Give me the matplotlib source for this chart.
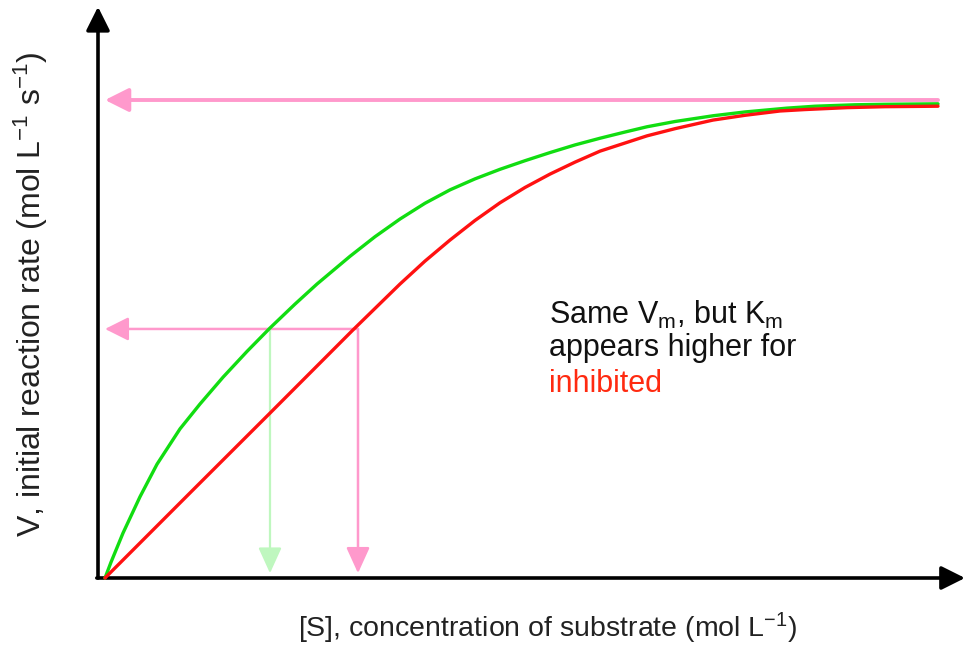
import matplotlib
matplotlib.use("Agg")
import matplotlib.pyplot as plt

plt.rcParams['font.family'] = ['Liberation Sans', 'DejaVu Sans']
plt.rcParams['mathtext.fontset'] = 'custom'
plt.rcParams['mathtext.rm'] = 'Liberation Sans'
plt.rcParams['mathtext.it'] = 'Liberation Sans'

# ---- data (S in arbitrary units, V as fraction of Vmax) ----
s_uninhibited = [0, 0.06, 0.18, 0.35, 0.52, 0.75, 0.95, 1.18, 1.42, 1.65, 1.9,
                 2.12, 2.45, 2.7, 2.95, 3.2, 3.45, 3.7, 3.95, 4.2, 4.45, 4.7,
                 4.95, 5.2, 5.42, 5.7, 6.08, 6.4, 6.82, 7.1, 7.5, 7.8, 8.33]
v_uninhibited = [0, 0.033, 0.094, 0.170, 0.238, 0.312, 0.364, 0.420, 0.474, 0.523,
                 0.573, 0.615, 0.673, 0.714, 0.751, 0.784, 0.812, 0.835, 0.855,
                 0.873, 0.890, 0.906, 0.920, 0.933, 0.944, 0.955, 0.967, 0.975,
                 0.983, 0.987, 0.990, 0.991, 0.992]

s_inhibited = [0, 0.85, 1.65, 2.48, 2.95, 3.2, 3.45, 3.7, 3.95, 4.2, 4.45, 4.7,
               4.95, 5.2, 5.42, 5.7, 6.08, 6.4, 6.75, 7.0, 7.42, 7.8, 8.33]
v_inhibited = [0, 0.178, 0.345, 0.519, 0.615, 0.663, 0.707, 0.748, 0.785, 0.817,
               0.845, 0.870, 0.893, 0.910, 0.925, 0.940, 0.958, 0.968, 0.977,
               0.980, 0.984, 0.986, 0.987]

vmax = 1.0
s_max = 8.33
half_v = 0.521
km_uninhibited = 1.65
km_inhibited = 2.53
v_floor = 0.01

xlabel = "[S], concentration of substrate (mol L$^{\\mathregular{-1}}$)"
ylabel = "V, initial reaction rate (mol L$^{\\mathregular{-1}}$ s$^{\\mathregular{-1}}$)"

# ---- figure ----
W, H = 969, 646
fig = plt.figure(figsize=(W / 100, H / 100), dpi=100)
ax = fig.add_axes([0, 0, 1, 1])
ax.set_axis_off()
# map: x = (px-105)/100 ; y = (578-py)/478
ax.set_xlim(-1.05, (W - 105) / 100)
ax.set_ylim((578 - H) / 478, 578 / 478)

pink = '#ff99cc'
lgreen = '#bff7bf'

arrow = '-|>,head_length=0.4,head_width=0.2'
# axes arrows
x0 = -0.07
ax.annotate('', xy=(x0, 1.195), xytext=(x0, 0), xycoords='data',
            arrowprops=dict(arrowstyle=arrow, mutation_scale=36, lw=2.6,
                            color='black', shrinkA=0, shrinkB=0))
ax.annotate('', xy=(8.6, 0), xytext=(x0 - 0.012, 0), xycoords='data',
            arrowprops=dict(arrowstyle=arrow, mutation_scale=36, lw=2.6,
                            color='black', shrinkA=0, shrinkB=0))

# Vmax arrow
ax.annotate('', xy=(0, vmax), xytext=(s_max, vmax),
            arrowprops=dict(arrowstyle=arrow, mutation_scale=36, lw=2.8,
                            color=pink, shrinkA=0, shrinkB=0), zorder=2)

# half Vmax arrow
ax.annotate('', xy=(0, half_v), xytext=(km_inhibited, half_v),
            arrowprops=dict(arrowstyle=arrow, mutation_scale=36, lw=1.8,
                            color=pink, shrinkA=0, shrinkB=0), zorder=2)
# drops to x axis
ax.annotate('', xy=(km_uninhibited, v_floor), xytext=(km_uninhibited, half_v),
            arrowprops=dict(arrowstyle='-|>,head_length=0.44,head_width=0.2',
                            mutation_scale=36, lw=1.6, color=lgreen,
                            shrinkA=0, shrinkB=0), zorder=2)
ax.annotate('', xy=(km_inhibited, v_floor), xytext=(km_inhibited, half_v),
            arrowprops=dict(arrowstyle='-|>,head_length=0.44,head_width=0.2',
                            mutation_scale=36, lw=1.8, color=pink,
                            shrinkA=0, shrinkB=0), zorder=2)

# curves
ax.plot(s_uninhibited, v_uninhibited, color='#11dd11', lw=2.4,
        solid_joinstyle='round', solid_capstyle='round', zorder=3)
ax.plot(s_inhibited, v_inhibited, color='#ff1111', lw=2.4,
        solid_joinstyle='round', solid_capstyle='round', zorder=4)

# text
def fx(px):
    return px / W

def fy(py):
    return 1 - py / H

fs = 22
fig.text(fx(549), fy(324), 'Same V$_{\\mathregular{m}}$, but K$_{\\mathregular{m}}$',
         fontsize=fs, color='#111111', va='baseline', ha='left')
fig.text(fx(549), fy(356), 'appears higher for', fontsize=fs, color='#111111',
         va='baseline', ha='left')
fig.text(fx(549), fy(392), 'inhibited', fontsize=fs, color='#ff2a10',
         va='baseline', ha='left')

fig.text(fx(548), fy(628), xlabel, fontsize=20.5, color='#222222',
         ha='center', va='center')
fig.text(fx(31), fy(294), ylabel, fontsize=23, color='#222222',
         ha='center', va='center', rotation=90)

fig.savefig('out.png', dpi=100)
